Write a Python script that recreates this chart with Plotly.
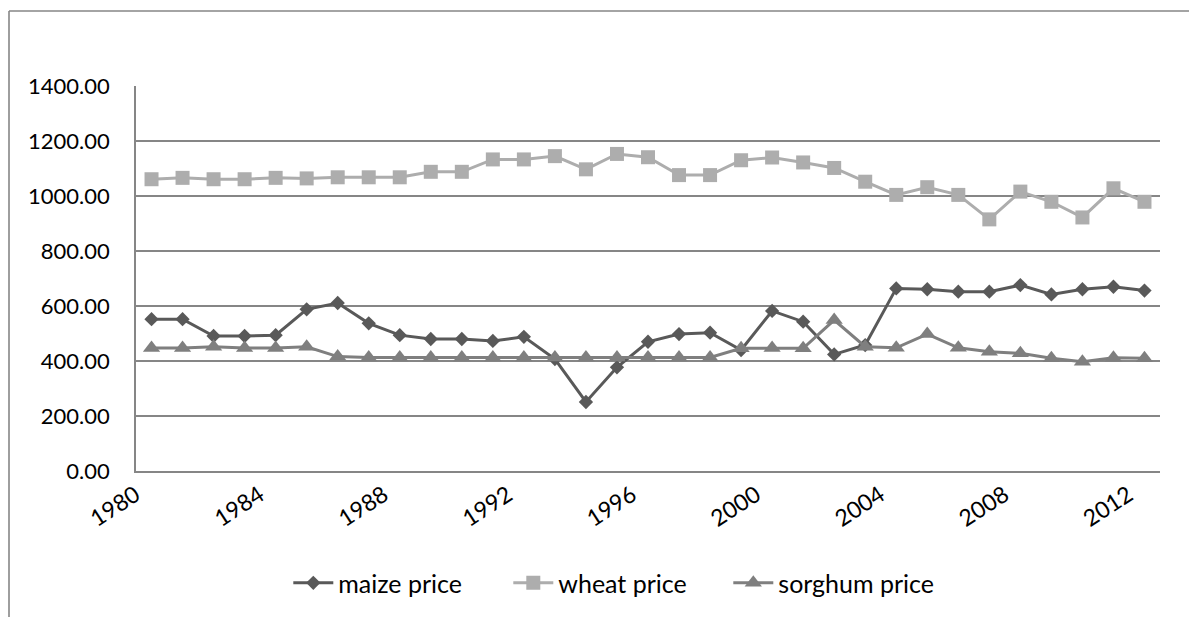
import plotly.graph_objects as go

years = list(range(1980, 2013))
maize_price = [552, 552, 491, 491, 494, 588, 611, 537, 494, 480, 480, 473, 488, 407, 251, 377,
               470, 498, 503, 440, 582, 543, 424, 458, 664, 661, 652, 652, 676, 642, 661, 670, 656]
wheat_price = [1061, 1066, 1061, 1061, 1066, 1064, 1068, 1068, 1068, 1088, 1088, 1133, 1133, 1145,
               1097, 1153, 1141, 1076, 1076, 1130, 1140, 1122, 1102, 1052, 1004, 1032, 1004, 915,
               1016, 979, 922, 1028, 979]
sorghum_price = [447, 447, 452, 447, 447, 452, 416, 413, 413, 413, 413, 413, 413, 413, 413, 413,
                 413, 413, 413, 446, 447, 446, 549, 452, 448, 498, 448, 434, 428, 410, 397, 412, 410]
x_tick_years = [1980, 1984, 1988, 1992, 1996, 2000, 2004, 2008, 2012]
y_ticks = [0, 200, 400, 600, 800, 1000, 1200, 1400]

FONT = "Lato"
GRID = "#868686"

fig = go.Figure()
fig.add_trace(go.Scatter(x=years, y=maize_price, name="maize price", mode="lines+markers",
                         line=dict(color="#595959", width=3),
                         marker=dict(symbol="diamond", size=11, color="#595959")))
fig.add_trace(go.Scatter(x=years, y=wheat_price, name="wheat price", mode="lines+markers",
                         line=dict(color="#ADADAD", width=3),
                         marker=dict(symbol="square", size=14, color="#ADADAD")))
fig.add_trace(go.Scatter(x=years, y=sorghum_price, name="sorghum price", mode="lines+markers",
                         line=dict(color="#7F7F7F", width=3),
                         marker=dict(symbol="triangle-up", size=15, color="#7F7F7F")))

L, T, W, H = 128, 78, 1024, 385
fig.update_layout(
    width=1197, height=617,
    margin=dict(l=L, r=1197 - L - W, t=T, b=617 - T - H, autoexpand=False),
    paper_bgcolor="white", plot_bgcolor="white",
    font=dict(family=FONT, size=22, color="#000000"),
    showlegend=True,
    legend=dict(orientation="h", x=0.471, xanchor="center", y=-0.291, yanchor="middle",
                font=dict(family=FONT, size=25), itemwidth=40, tracegroupgap=0,
                entrywidth=165, entrywidthmode="pixels"),
    xaxis=dict(range=[1979.5, 2012.5], tickmode="array", tickvals=x_tick_years,
               ticktext=[str(v) for v in x_tick_years], tickangle=-33,
               showgrid=False, zeroline=False, showline=True, linecolor=GRID, linewidth=1.6,
               ticks="", ticklabelshift=-16, tickfont=dict(family=FONT, size=23)),
    yaxis=dict(range=[0, 1400], tickmode="array", tickvals=y_ticks, tickformat=".2f",
               showgrid=True, gridcolor=GRID, gridwidth=1.6, zeroline=False,
               showline=True, linecolor=GRID, linewidth=1.6, ticks="",
               ticklabelstandoff=20, tickfont=dict(family=FONT, size=22)),
    shapes=[
        dict(type="line", xref="paper", yref="paper", x0=(1 - L) / W, x1=1.3,
             y0=(T + H - 3) / H, y1=(T + H - 3) / H, line=dict(color=GRID, width=1.6)),
        dict(type="line", xref="paper", yref="paper", x0=(1 - L) / W, x1=(1 - L) / W,
             y0=(T + H - 3) / H, y1=-0.6, line=dict(color=GRID, width=1.6)),
    ],
)

fig.write_html("out.html")
